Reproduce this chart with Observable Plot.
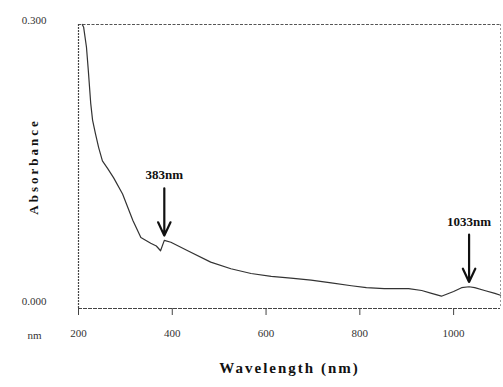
<!DOCTYPE html>
<html>
<head>
<meta charset="utf-8">
<script src="https://cdn.jsdelivr.net/npm/d3@7"></script>
<script src="https://cdn.jsdelivr.net/npm/@observablehq/plot@0.6"></script>
<style>
  html, body { margin: 0; padding: 0; background: #fff; }
  #chart svg { display: block; }
</style>
</head>
<body>
<div id="chart"></div>
<script>
// UV-Vis-NIR absorption spectrum
const wavelength = [208, 211, 217, 221, 226, 230, 236, 243, 251, 262, 275, 294, 305, 316, 333, 354, 366, 375, 383, 397, 433, 482, 525, 568, 611, 653, 696, 739, 782, 814, 852, 904, 932, 953, 974, 1000, 1017, 1033, 1045, 1066, 1088, 1100];
const absorbance = [0.300, 0.297, 0.276, 0.251, 0.217, 0.199, 0.185, 0.170, 0.156, 0.148, 0.138, 0.121, 0.107, 0.093, 0.075, 0.069, 0.066, 0.061, 0.072, 0.070, 0.061, 0.049, 0.042, 0.037, 0.034, 0.032, 0.030, 0.027, 0.024, 0.022, 0.021, 0.021, 0.019, 0.016, 0.013, 0.018, 0.022, 0.023, 0.022, 0.019, 0.016, 0.014];

// Marked bands
const peaks = [383, 1033];
const peakLabels = ["383nm", "1033nm"];

// Axis ticks
const xTicks = [200, 400, 600, 800, 1000];
const yMin = 0.000;
const yMax = 0.300;

const spectrum = wavelength.map((w, i) => ({w, a: absorbance[i]}));
const absAt = (w) => {
  const i = d3.bisector(d => d.w).left(spectrum, w);
  if (i <= 0) return spectrum[0].a;
  if (i >= spectrum.length) return spectrum[spectrum.length - 1].a;
  const p = spectrum[i - 1], q = spectrum[i];
  return p.a + (q.a - p.a) * (w - p.w) / (q.w - p.w);
};
const marks = peaks.map((w, i) => ({w, label: peakLabels[i], a: absAt(w)}));

const serif = "'Liberation Serif', 'DejaVu Serif', serif";

const chart = Plot.plot({
  width: 503,
  height: 387,
  marginLeft: 78,
  marginRight: 3,
  marginTop: 24,
  marginBottom: 79,
  x: {domain: [200, 1100]},
  y: {domain: [yMin, yMax]},
  style: {fontFamily: serif, background: "#fff", color: "#222"},
  marks: [
    // frame: solid left/bottom, light dashed top/right
    Plot.ruleY([yMax], {stroke: "#555", strokeWidth: 1.2, strokeDasharray: "3,1.5"}),
    Plot.ruleX([1100], {stroke: "#999", strokeWidth: 1, strokeDasharray: "2,2"}),
    Plot.ruleX([200], {y1: yMin, y2: yMax, stroke: "#444", strokeWidth: 1.2, strokeDasharray: "2,1"}),
    Plot.ruleY([yMin], {stroke: "#444", strokeWidth: 1.2, strokeDasharray: "4,1"}),

    Plot.axisX(xTicks, {
      anchor: "bottom", tickSize: 7, tickPadding: 14, fontSize: 11, fill: "#333", stroke: "#444",
      tickFormat: d3.format("d"), label: null
    }),
    Plot.axisY([yMax], {
      anchor: "left", tickSize: 0, tickPadding: 32, dy: -4, fontSize: 11, fill: "#333",
      tickFormat: d3.format(".3f"), label: null
    }),
    Plot.axisY([yMin], {
      anchor: "left", tickSize: 0, tickPadding: 32, dy: -7, fontSize: 11, fill: "#333",
      tickFormat: d3.format(".3f"), label: null
    }),
    Plot.text(["nm"], {
      x: 200, y: yMin, dx: -44, dy: 27, fontSize: 11, fill: "#333", textAnchor: "middle"
    }),

    // spectrum
    Plot.line(spectrum, {x: "w", y: "a", stroke: "#333", strokeWidth: 1.2, curve: "linear"}),

    // band arrows and labels
    Plot.arrow(marks, {
      x: "w", y1: d => d.a + 0.055, y2: d => d.a + 0.005,
      stroke: "#111", strokeWidth: 2.2, headLength: 10, headAngle: 50
    }),
    Plot.text(marks, {
      x: "w", y: d => d.a + 0.055, text: "label", dy: -13,
      fontSize: 13, fontWeight: "bold", fill: "#111", textAnchor: "middle"
    }),

    // axis titles
    Plot.text(["Absorbance"], {
      frameAnchor: "left", dx: -45, rotate: -90, fontSize: 13, fontWeight: "bold",
      fill: "#111", textAnchor: "middle"
    }),
    Plot.text(["Wavelength (nm)"], {
      frameAnchor: "bottom", dy: 64, fontSize: 15, fontWeight: "bold",
      fill: "#111", textAnchor: "middle"
    })
  ]
});

// the printed axis titles are widely tracked
d3.select(chart).selectAll("text")
  .filter(function() { return this.textContent === "Absorbance"; })
  .attr("letter-spacing", "3px");
d3.select(chart).selectAll("text")
  .filter(function() { return this.textContent === "Wavelength (nm)"; })
  .attr("letter-spacing", "2px");

document.getElementById("chart").append(chart);
</script>
</body>
</html>
